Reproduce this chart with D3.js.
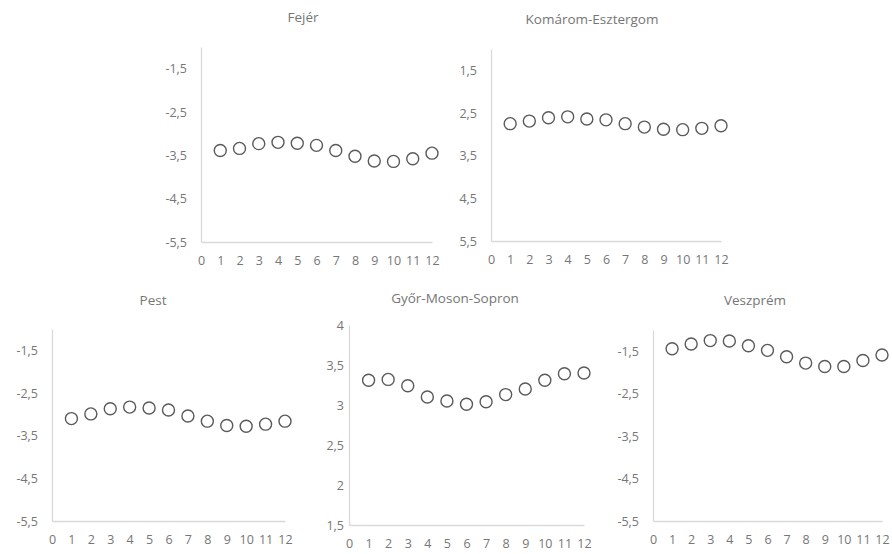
<!DOCTYPE html>
<html>
<head>
<meta charset="utf-8">
<script src="https://cdn.jsdelivr.net/npm/d3@7"></script>
<style>
  html, body { margin: 0; padding: 0; background: #fff; }
  svg { display: block; }
  text { font-family: "Open Sans", "DejaVu Sans", sans-serif; fill: #767676; }
</style>
</head>
<body>
<svg id="chart" width="892" height="554"></svg>
<script>
// ---- data ----
const months = [1, 2, 3, 4, 5, 6, 7, 8, 9, 10, 11, 12];
const xTicks = [0, 1, 2, 3, 4, 5, 6, 7, 8, 9, 10, 11, 12];
const negTicks = [-5.5, -4.5, -3.5, -2.5, -1.5];
const posTicks = [1.5, 2, 2.5, 3, 3.5, 4];
const titles = ["Fejér", "Komárom-Esztergom", "Pest", "Győr-Moson-Sopron", "Veszprém"];
const fejer    = [-3.39, -3.34, -3.23, -3.20, -3.22, -3.27, -3.39, -3.52, -3.63, -3.64, -3.58, -3.45];
const komarom  = [-2.75, -2.69, -2.61, -2.59, -2.64, -2.66, -2.75, -2.83, -2.88, -2.89, -2.86, -2.80];
const pest     = [-3.10, -2.99, -2.87, -2.83, -2.85, -2.90, -3.04, -3.16, -3.26, -3.28, -3.23, -3.16];
const gyor     = [3.31, 3.32, 3.24, 3.10, 3.05, 3.01, 3.04, 3.13, 3.20, 3.31, 3.39, 3.40];
const veszprem = [-1.44, -1.33, -1.25, -1.26, -1.37, -1.48, -1.63, -1.78, -1.86, -1.86, -1.72, -1.59];
const negDomain = [-5.5, -1];
const posDomain = [1.5, 4];

// ---- layout ----
const layout = [
  { title: titles[0], values: fejer,    domain: negDomain, ticks: negTicks, x0: 201, x1: 432, y0: 47,  y1: 242, tx: 303, ty: 22,  lab: 14, clip: null },
  { title: titles[1], values: komarom,  domain: negDomain, ticks: negTicks, x0: 491, x1: 721, y0: 49,  y1: 241, tx: 592, ty: 24,  lab: 14, clip: 459 },
  { title: titles[2], values: pest,     domain: negDomain, ticks: negTicks, x0: 52,  x1: 285, y0: 329, y1: 521, tx: 153, ty: 305, lab: 14, clip: null },
  { title: titles[3], values: gyor,     domain: posDomain, ticks: posTicks, x0: 349, x1: 584, y0: 325, y1: 525, tx: 455, ty: 303, lab: 5,  clip: null },
  { title: titles[4], values: veszprem, domain: negDomain, ticks: negTicks, x0: 653, x1: 882, y0: 330, y1: 521, tx: 755, ty: 305, lab: 14, clip: null }
];

const fmt = d => String(d).replace(".", ",");
const svg = d3.select("#chart");
const defs = svg.append("defs");

layout.forEach((p, i) => {
  const g = svg.append("g");
  if (p.clip !== null) {
    defs.append("clipPath").attr("id", "clip" + i)
      .append("rect").attr("x", p.clip).attr("y", 0).attr("width", 892 - p.clip).attr("height", 554);
    g.attr("clip-path", "url(#clip" + i + ")");
  }
  const x = d3.scaleLinear().domain([0, 12]).range([p.x0, p.x1]);
  const y = d3.scaleLinear().domain(p.domain).range([p.y1, p.y0]);

  // title
  g.append("text").attr("x", p.tx).attr("y", p.ty)
    .attr("text-anchor", "middle").attr("font-size", "13.5px").attr("fill", "#6e6e6e").text(p.title);

  // y axis (line only, no tick marks)
  const yAxis = d3.axisLeft(y).tickValues(p.ticks).tickFormat(fmt).tickSize(0).tickPadding(p.lab);
  const ya = g.append("g").attr("transform", `translate(${p.x0},0)`).call(yAxis);
  ya.select(".domain").attr("stroke", "#d9d9d9").attr("stroke-width", 1.3);
  ya.selectAll("text").attr("font-size", "12.5px").attr("fill", "#767676").attr("font-family", null);

  // x axis
  const xAxis = d3.axisBottom(x).tickValues(xTicks).tickFormat(d3.format("d")).tickSize(0).tickPadding(14);
  const xa = g.append("g").attr("transform", `translate(0,${p.y1})`).call(xAxis);
  xa.select(".domain").attr("stroke", "#d9d9d9").attr("stroke-width", 1.3);
  xa.selectAll("text").attr("font-size", "12.5px").attr("fill", "#767676").attr("font-family", null);

  // markers
  g.selectAll("circle.pt").data(months.map((m, k) => ({ m, v: p.values[k] })))
    .join("circle").attr("class", "pt")
    .attr("cx", d => x(d.m)).attr("cy", d => y(d.v)).attr("r", 6)
    .attr("fill", "none").attr("stroke", "#5a5a5a").attr("stroke-width", 1.4);
});
</script>
</body>
</html>
